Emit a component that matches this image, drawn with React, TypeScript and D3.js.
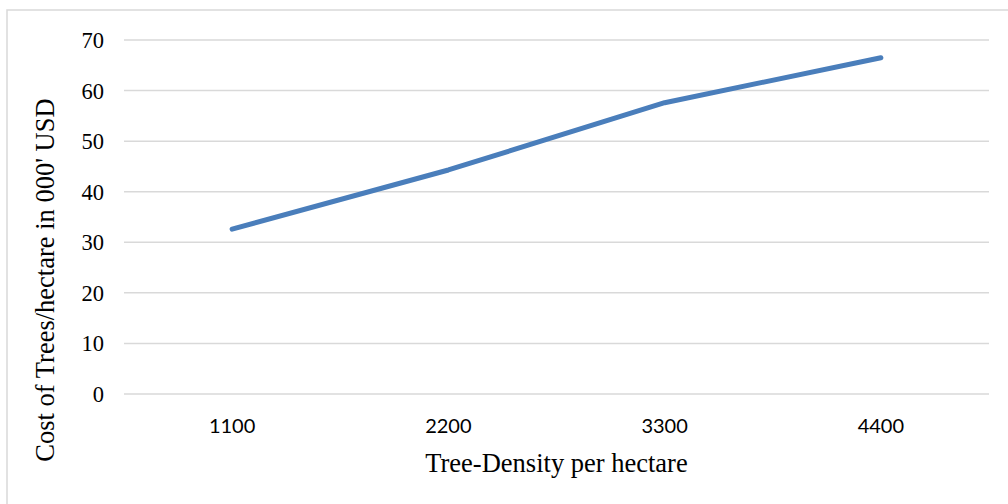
import * as d3 from 'd3';

const densities = ['1100', '2200', '3300', '4400'];
const costs = [32.6, 44.3, 57.6, 66.5];
const yTicks = [0, 10, 20, 30, 40, 50, 60, 70];

const W = 1008;
const H = 504;
const left = 124;
const right = 989;
const top = 40;
const bottom = 394;

export default function App() {
  const x = d3.scaleBand<string>().domain(densities).range([left, right]);
  const y = d3.scaleLinear().domain([0, 70]).range([bottom, top]);

  const line = d3
    .line<number>()
    .x((_, i) => (x(densities[i]) ?? 0) + x.bandwidth() / 2)
    .y((d) => y(d));

  return (
    <svg
      width={W}
      height={H}
      style={{ position: 'absolute', left: 0, top: 0, background: '#fff' }}
    >
      <rect x={7} y={10} width={1010} height={510} fill="#fff" stroke="#d9d9d9" strokeWidth={1.5} />

      {/* gridlines */}
      {yTicks.map((t) => (
        <line key={t} x1={left} x2={right} y1={y(t)} y2={y(t)} stroke="#d9d9d9" strokeWidth={1.5} />
      ))}

      {/* y tick labels */}
      {yTicks.map((t) => (
        <text
          key={'l' + t}
          x={104}
          y={y(t) + 8}
          textAnchor="end"
          fontFamily="'Liberation Serif', 'Times New Roman', serif"
          fontSize={22.5}
          fill="#000"
        >
          {t}
        </text>
      ))}

      {/* x tick labels */}
      {densities.map((d) => (
        <text
          key={d}
          x={(x(d) ?? 0) + x.bandwidth() / 2}
          y={433}
          textAnchor="middle"
          fontFamily="Lato, 'Open Sans', sans-serif"
          fontSize={20}
          fill="#000"
        >
          {d}
        </text>
      ))}

      <path
        d={line(costs) ?? ''}
        fill="none"
        stroke="#4a7ebb"
        strokeWidth={5}
        strokeLinecap="round"
        strokeLinejoin="round"
      />

      {/* axis titles */}
      <text
        x={(left + right) / 2}
        y={472}
        textAnchor="middle"
        fontFamily="'Liberation Serif', 'Times New Roman', serif"
        fontSize={26.5}
        fill="#000"
      >
        Tree-Density per hectare
      </text>
      <text
        transform="translate(54,280) rotate(-90)"
        textAnchor="middle"
        fontFamily="'Liberation Serif', 'Times New Roman', serif"
        fontSize={26.5}
        fill="#000"
      >
        Cost of Trees/hectare in 000' USD
      </text>
    </svg>
  );
}
